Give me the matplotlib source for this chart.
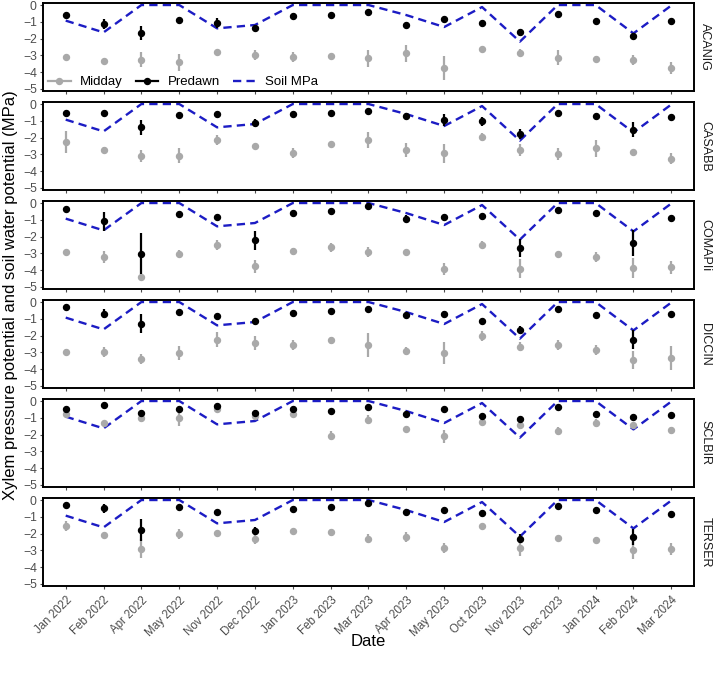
import matplotlib
matplotlib.use("Agg")
import matplotlib.pyplot as plt
from matplotlib.lines import Line2D
import numpy as np

plt.rcParams['font.family'] = ['Liberation Sans', 'DejaVu Sans']

dates = ["Jan 2022", "Feb 2022", "Apr 2022", "May 2022", "Nov 2022", "Dec 2022",
         "Jan 2023", "Feb 2023", "Mar 2023", "Apr 2023", "May 2023", "Oct 2023",
         "Nov 2023", "Dec 2023", "Jan 2024", "Feb 2024", "Mar 2024"]
species = ["ACANIG", "CASABB", "COMAPIi", "DICCIN", "SCLBIR", "TERSER"]

soil_mpa = [-0.93, -1.63, 0.0, 0.0, -1.39, -1.19, 0.0, 0.0, 0.0, -0.6, -1.31,
            -0.12, -2.18, 0.0, 0.0, -1.69, -0.03]

# Predawn means and error half-widths
pd_acanig = [-0.6, -1.11, -1.67, -0.89, -1.05, -1.39, -0.65, -0.6, -0.44, -1.19, -0.85, -1.09, -1.63, -0.54, -0.93, -1.85, -0.95]
pd_acanig_e = [0.08, 0.3, 0.42, 0.05, 0.3, 0.08, 0.06, 0.05, 0.05, 0.06, 0.15, 0.05, 0.2, 0.05, 0.05, 0.12, 0.06]
pd_casabb = [-0.54, -0.54, -1.39, -0.63, -0.6, -1.13, -0.6, -0.56, -0.4, -0.7, -0.95, -1.03, -1.79, -0.54, -0.71, -1.53, -0.75]
pd_casabb_e = [0.05, 0.05, 0.45, 0.05, 0.08, 0.25, 0.05, 0.05, 0.05, 0.15, 0.35, 0.25, 0.3, 0.05, 0.05, 0.45, 0.05]
pd_comapi = [-0.36, -1.09, -3.02, -0.63, -0.83, -2.22, -0.6, -0.46, -0.16, -0.93, -0.85, -0.79, -2.68, -0.4, -0.62, -2.38, -0.89]
pd_comapi_e = [0.05, 0.55, 1.22, 0.05, 0.05, 0.55, 0.05, 0.05, 0.05, 0.2, 0.08, 0.05, 0.55, 0.05, 0.05, 0.75, 0.05]
pd_diccin = [-0.3, -0.69, -1.29, -0.62, -0.81, -1.15, -0.65, -0.56, -0.42, -0.75, -0.71, -1.15, -1.65, -0.42, -0.77, -2.24, -0.69]
pd_diccin_e = [0.05, 0.25, 0.58, 0.05, 0.05, 0.2, 0.05, 0.05, 0.05, 0.08, 0.15, 0.08, 0.2, 0.05, 0.05, 0.55, 0.06]
pd_sclbir = [-0.46, -0.26, -0.71, -0.46, -0.28, -0.71, -0.48, -0.58, -0.34, -0.75, -0.48, -0.87, -1.09, -0.36, -0.75, -0.97, -0.85]
pd_sclbir_e = [0.05, 0.05, 0.08, 0.05, 0.05, 0.05, 0.05, 0.05, 0.05, 0.05, 0.05, 0.05, 0.05, 0.05, 0.05, 0.05, 0.05]
pd_terser = [-0.32, -0.5, -1.77, -0.42, -0.69, -1.83, -0.52, -0.42, -0.16, -0.71, -0.6, -0.75, -2.3, -0.34, -0.6, -2.2, -0.83]
pd_terser_e = [0.05, 0.25, 0.66, 0.05, 0.05, 0.25, 0.05, 0.05, 0.05, 0.06, 0.05, 0.05, 0.25, 0.05, 0.05, 0.45, 0.15]

# Midday means and error half-widths
md_acanig = [-3.1, -3.35, -3.25, -3.4, -2.78, -3.0, -3.1, -3.02, -3.17, -2.88, -3.75, -2.64, -2.84, -3.13, -3.21, -3.25, -3.75]
md_acanig_e = [0.08, 0.15, 0.45, 0.5, 0.08, 0.3, 0.3, 0.08, 0.5, 0.5, 0.7, 0.06, 0.2, 0.45, 0.2, 0.3, 0.35]
md_casabb = [-2.28, -2.74, -3.1, -3.08, -2.16, -2.52, -2.92, -2.38, -2.14, -2.74, -2.94, -1.98, -2.74, -2.98, -2.64, -2.86, -3.25]
md_casabb_e = [0.65, 0.2, 0.35, 0.45, 0.3, 0.06, 0.3, 0.06, 0.45, 0.4, 0.55, 0.25, 0.35, 0.35, 0.5, 0.06, 0.35]
md_comapi = [-2.94, -3.23, -4.4, -3.02, -2.48, -3.77, -2.88, -2.64, -2.92, -2.92, -3.91, -2.48, -3.91, -3.04, -3.23, -3.87, -3.83]
md_comapi_e = [0.1, 0.35, 0.06, 0.2, 0.3, 0.4, 0.2, 0.25, 0.3, 0.06, 0.35, 0.2, 0.55, 0.08, 0.3, 0.6, 0.4]
md_diccin = [-2.96, -2.98, -3.39, -3.04, -2.24, -2.44, -2.58, -2.28, -2.56, -2.9, -3.04, -2.04, -2.66, -2.54, -2.86, -3.45, -3.33]
md_diccin_e = [0.15, 0.3, 0.3, 0.4, 0.45, 0.4, 0.3, 0.2, 0.7, 0.25, 0.65, 0.3, 0.25, 0.3, 0.3, 0.55, 0.7]
md_sclbir = [-0.75, -1.31, -1.01, -1.01, -0.46, -0.91, -0.75, -2.06, -1.11, -1.67, -2.1, -1.25, -1.41, -1.77, -1.31, -1.45, -1.75]
md_sclbir_e = [0.15, 0.1, 0.25, 0.45, 0.15, 0.1, 0.2, 0.25, 0.25, 0.15, 0.4, 0.2, 0.1, 0.25, 0.25, 0.15, 0.2]
md_terser = [-1.53, -2.1, -2.9, -2.02, -1.96, -2.32, -1.87, -1.92, -2.3, -2.22, -2.86, -1.55, -2.86, -2.26, -2.36, -2.96, -2.92]
md_terser_e = [0.3, 0.15, 0.55, 0.3, 0.06, 0.3, 0.06, 0.2, 0.25, 0.3, 0.3, 0.06, 0.45, 0.06, 0.15, 0.55, 0.35]

predawn = [(pd_acanig, pd_acanig_e), (pd_casabb, pd_casabb_e), (pd_comapi, pd_comapi_e),
           (pd_diccin, pd_diccin_e), (pd_sclbir, pd_sclbir_e), (pd_terser, pd_terser_e)]
midday = [(md_acanig, md_acanig_e), (md_casabb, md_casabb_e), (md_comapi, md_comapi_e),
          (md_diccin, md_diccin_e), (md_sclbir, md_sclbir_e), (md_terser, md_terser_e)]

W, H = 714, 673
fig = plt.figure(figsize=(W / 100, H / 100), dpi=100)

left, right = 43 / W, 694 / W
top_px, ph, gap = 3, 88, 11.0
x = np.arange(len(dates))
grey = "#A9A9A9"
blue = "#1C1CC4"
tickc = "#4D4D4D"
dash = (0, (3.5, 2.2))

axes = []
for i, sp in enumerate(species):
    y0 = top_px + i * (ph + gap)
    ax = fig.add_axes([left, 1 - (y0 + ph) / H, right - left, ph / H])
    axes.append(ax)
    ax.plot(x, soil_mpa, color=blue, lw=1.7, ls=dash, zorder=2)
    m, me = midday[i]
    ax.errorbar(x, m, yerr=me, fmt="o", color=grey, ms=4.3, elinewidth=1.6,
                capsize=0, zorder=3)
    p, pe = predawn[i]
    ax.errorbar(x, p, yerr=pe, fmt="o", color="black", ms=4.3, elinewidth=1.6,
                capsize=0, zorder=4)
    ax.set_xlim(-0.6, len(dates) - 0.4)
    ax.set_ylim(-5.12, 0.12)
    ax.set_yticks([0, -1, -2, -3, -4, -5])
    ax.set_yticklabels(["0", "\u22121", "\u22122", "\u22123", "\u22124", "\u22125"])
    ax.tick_params(axis="y", labelsize=8.8, colors=tickc, length=2.5, width=0.8, pad=2)
    ax.tick_params(axis="x", length=2.5, width=0.8, colors=tickc)
    ax.set_xticks(x)
    for s in ax.spines.values():
        s.set_linewidth(1.4)
        s.set_color("black")
    if i < len(species) - 1:
        ax.set_xticklabels([])
    else:
        ax.set_xticklabels(dates, rotation=45, ha="right", rotation_mode="anchor",
                           fontsize=8.3, color=tickc)
    ax.text(1.008, 0.5, sp, transform=ax.transAxes, rotation=-90, va="center",
            ha="left", fontsize=9, color="#1A1A1A")

handles = [
    Line2D([], [], color=grey, marker="o", ms=4.3, lw=1.6),
    Line2D([], [], color="black", marker="o", ms=4.3, lw=1.6),
    Line2D([], [], color=blue, lw=1.7, ls=dash),
]
axes[0].legend(handles, ["Midday", "Predawn", "Soil MPa"], loc="lower left",
               ncol=3, frameon=False, fontsize=9.5, handlelength=1.7,
               columnspacing=1.0, handletextpad=0.7, borderaxespad=0.0,
               bbox_to_anchor=(0.0, -0.03))

fig.text(11 / W, 1 - 295 / H, "Xylem pressure potential and soil water potential (MPa)",
         rotation=90, va="center", ha="center", fontsize=12)
fig.text(368 / W, 1 - 642 / H, "Date", ha="center", va="center", fontsize=12)

fig.savefig("out.png", dpi=100)
